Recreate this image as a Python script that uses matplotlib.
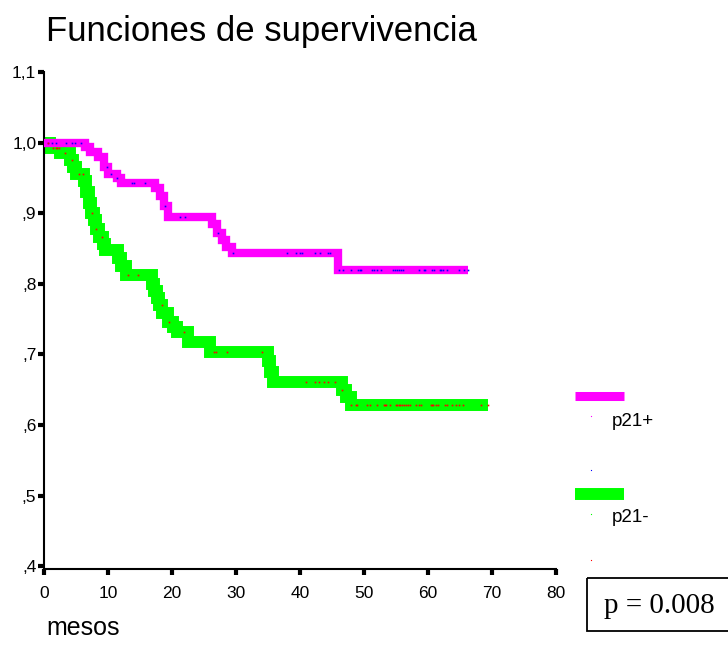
import matplotlib
matplotlib.use("Agg")
import matplotlib.pyplot as plt
import numpy as np

plt.rcParams['font.family'] = ['Liberation Sans', 'DejaVu Sans']

# Kaplan-Meier estimates (months, survival) per group
pos_times = [0, 6.4, 7.2, 8.5, 9.3, 10.0, 11.4, 12.1, 17.3, 18.1, 18.8, 19.4,
             26.2, 27.0, 27.8, 28.5, 29.3, 46.0, 66.3]
pos_surv = [1.0, 0.994, 0.987, 0.979, 0.965, 0.956, 0.950, 0.943, 0.935, 0.925,
            0.910, 0.894, 0.885, 0.872, 0.862, 0.852, 0.843, 0.820, 0.820]

neg_times = [0, 1.0, 2.5, 4.0, 4.5, 5.0, 6.3, 6.6, 7.0, 7.4, 7.8, 8.2, 8.6, 9.2,
             9.6, 11.5, 12.1, 12.8, 16.8, 17.2, 17.6, 18.0, 18.5, 19.4, 20.2,
             20.8, 22.5, 26.0, 35.0, 35.3, 35.8, 46.5, 47.2, 48.0, 69.3]
neg_surv = [1.0, 0.993, 0.985, 0.975, 0.965, 0.955, 0.945, 0.930, 0.915, 0.900,
            0.890, 0.878, 0.866, 0.856, 0.848, 0.836, 0.825, 0.812, 0.800, 0.790,
            0.780, 0.770, 0.758, 0.746, 0.739, 0.732, 0.717, 0.703, 0.690, 0.675,
            0.661, 0.650, 0.640, 0.628, 0.628]

# censored observations
pos_cens = [0.7, 1.3, 1.8, 3.4, 4.4, 4.8, 5.8, 9.9, 10.4, 11.4, 13.8, 14.1, 15.8,
            18.95, 21.3, 22.1, 27.2, 29.6, 37.9, 39.3, 40.0, 40.3, 42.3, 43.1,
            44.4, 44.7, 46.1, 46.7, 47.9, 49.0, 49.3, 49.6, 51.3, 51.6, 52.0, 52.7,
            54.6, 54.8, 55.1, 55.4, 55.8, 56.1, 58.6, 59.3, 59.6, 60.7, 61.0, 61.8,
            62.1, 62.4, 63.0, 64.8, 65.6, 66.3]
neg_cens = [0.7, 1.4, 1.8, 2.1, 2.4, 3.3, 4.4, 5.5, 6.1, 7.5, 8.2, 9.0, 13.2, 14.7,
            18.4, 19.6, 21.8, 26.5, 26.8, 28.6, 34.1, 41.0, 42.4, 43.0, 43.8, 44.4,
            45.5, 46.5, 48.0, 48.75, 48.9, 50.4, 51.0, 52.1, 53.1, 53.3, 53.5, 54.1,
            55.0, 55.2, 55.5, 55.7, 56.0, 56.2, 56.5, 56.9, 57.2, 58.2, 58.6, 58.9,
            60.4, 60.7, 60.8, 61.2, 61.5, 62.7, 63.0, 63.8, 64.4, 64.9, 65.5, 68.3,
            69.3]

yticks = [0.4, 0.5, 0.6, 0.7, 0.8, 0.9, 1.0, 1.1]
ytick_labels = [',4', ',5', ',6', ',7', ',8', ',9', '1,0', '1,1']
xticks = [0, 10, 20, 30, 40, 50, 60, 70, 80]

MAGENTA = '#ff00ff'
GREEN = '#00ff00'


def surv_at(t, times, surv):
    idx = np.searchsorted(times, t, side='right') - 1
    return np.array(surv)[idx]


fig = plt.figure(figsize=(7.28, 6.66), dpi=100)
ax = fig.add_axes([44 / 728, 1 - 569 / 666, 512 / 728, (569 - 72) / 666])

ax.plot(neg_times, neg_surv, drawstyle='steps-post', color=GREEN, lw=8.6,
        solid_joinstyle='miter', solid_capstyle='butt', zorder=2)
ax.plot(pos_times, pos_surv, drawstyle='steps-post', color=MAGENTA, lw=6.0,
        solid_joinstyle='miter', solid_capstyle='butt', zorder=3)
ax.plot(pos_cens, surv_at(pos_cens, pos_times, pos_surv), 's', ms=1.2,
        color='blue', mew=0, zorder=4)
ax.plot(neg_cens, surv_at(neg_cens, neg_times, neg_surv), 's', ms=1.2,
        color='red', mew=0, zorder=4)

ax.set_xlim(0, 80)
ax.set_ylim(0.396, 1.1)
ax.set_xticks(xticks)
ax.set_yticks(yticks)
ax.set_yticklabels(ytick_labels)
ax.tick_params(direction='out', length=4, width=3, labelsize=12.5)
ax.tick_params(axis='x', pad=8)
ax.tick_params(axis='y', pad=1.5)
for side in ['top', 'right']:
    ax.spines[side].set_visible(False)
for side in ['left', 'bottom']:
    ax.spines[side].set_linewidth(1.5)

fig.text(46 / 728, 1 - 31 / 666, 'Funciones de supervivencia', fontsize=25,
         va='center', ha='left')
fig.text(46 / 728, 1 - 628 / 666, 'mesos', fontsize=18, va='center', ha='left')

# legend
lax = fig.add_axes([0, 0, 1, 1], facecolor='none')
lax.set_xlim(0, 728)
lax.set_ylim(666, 0)
lax.axis('off')
lax.plot([575, 624], [395.5, 395.5], color=MAGENTA, lw=6.5, solid_capstyle='butt')
lax.plot([575, 624], [494, 494], color=GREEN, lw=8.6, solid_capstyle='butt')
lax.text(612, 421, 'p21+', fontsize=13.5, va='center', ha='left')
lax.text(612, 518, 'p21-', fontsize=13.5, va='center', ha='left')
lax.plot([591], [416], 's', ms=0.8, color=MAGENTA, mew=0)
lax.plot([591], [470], 's', ms=0.8, color='blue', mew=0)
lax.plot([591], [514], 's', ms=0.8, color=GREEN, mew=0)
lax.plot([591], [560], 's', ms=0.8, color='red', mew=0)

# log-rank p-value box
lax.add_patch(plt.Rectangle((587, 578), 150, 53, fill=False, ec='black', lw=1.3))
lax.text(659, 606, 'p = 0.008', fontsize=21, va='center', ha='center',
         family=['Liberation Serif', 'DejaVu Serif'])

fig.savefig('out.png', dpi=100, facecolor='white')
